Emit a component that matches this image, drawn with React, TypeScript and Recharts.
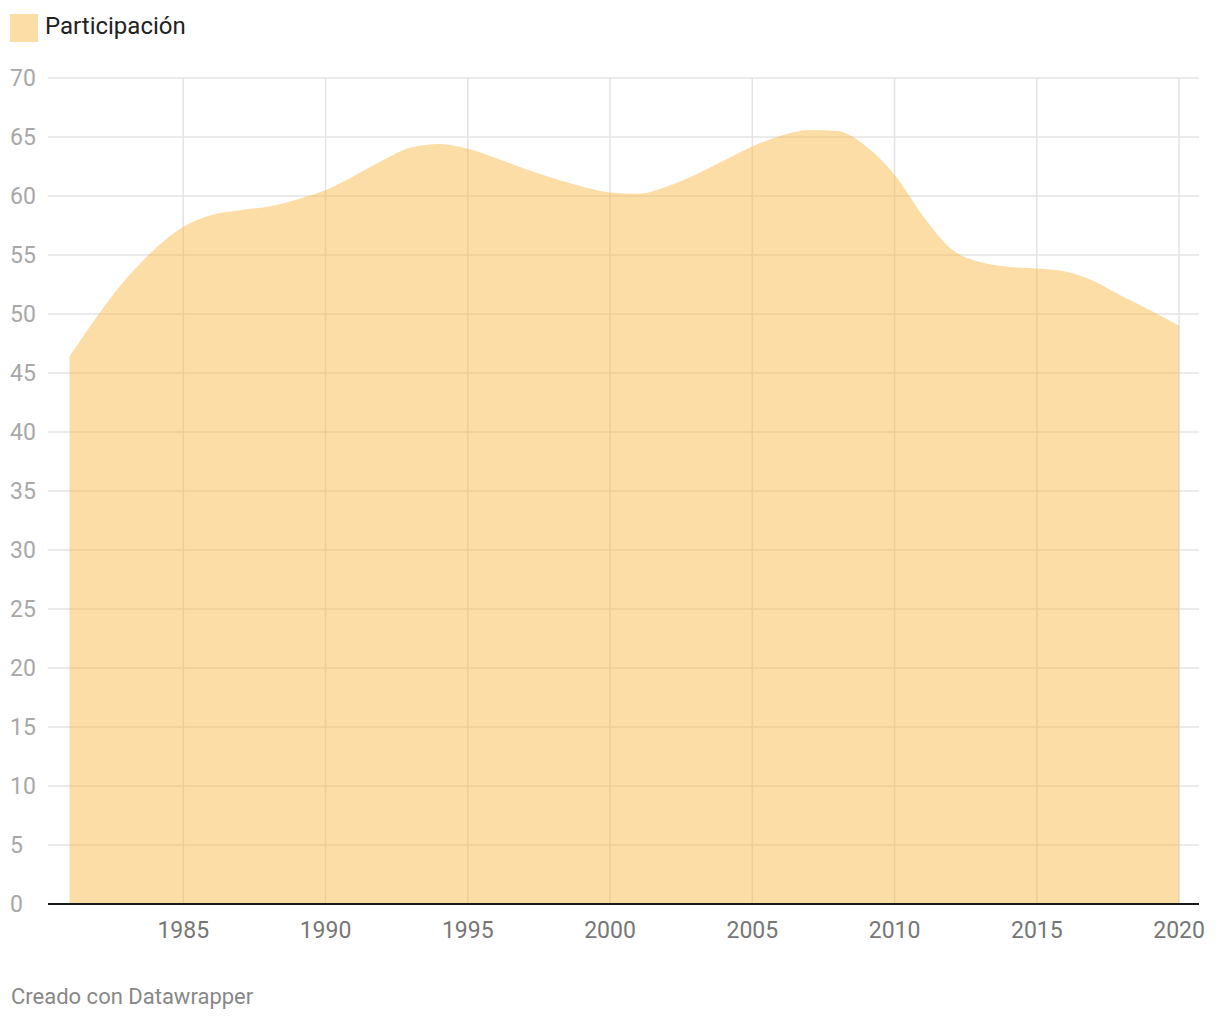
import React from 'react';
import { AreaChart, Area, XAxis, YAxis, CartesianGrid } from 'recharts';

const years = [
  1981, 1982, 1983, 1984, 1985, 1986, 1987, 1988, 1989, 1990,
  1991, 1992, 1993, 1994, 1995, 1996, 1997, 1998, 1999, 2000,
  2001, 2002, 2003, 2004, 2005, 2006, 2007, 2008, 2009, 2010,
  2011, 2012, 2013, 2014, 2015, 2016, 2017, 2018, 2019, 2020,
];

const participacion = [
  46.4, 49.9, 53.0, 55.5, 57.4, 58.4, 58.8, 59.1, 59.7, 60.5,
  61.7, 63.0, 64.1, 64.4, 64.0, 63.2, 62.3, 61.5, 60.8, 60.3,
  60.2, 60.8, 61.8, 63.0, 64.2, 65.1, 65.6, 65.5, 64.2, 61.8,
  58.3, 55.5, 54.4, 54.0, 53.85, 53.6, 52.8, 51.5, 50.3, 49.0,
];

const xTicks = [1985, 1990, 1995, 2000, 2005, 2010, 2015, 2020];
const yTicks = [0, 5, 10, 15, 20, 25, 30, 35, 40, 45, 50, 55, 60, 65, 70];
const xDomain: [number, number] = [1980.245, 2020.7];

const data = years.map((year, i) => ({ year, value: participacion[i] }));

const FILL = '#fbb339';
const FILL_OPACITY = 0.45;
const FONT = 'Roboto, "Noto Sans", sans-serif';

const YTick = (props: any) => {
  const { y, payload } = props;
  return (
    <text x={10} y={y} dy={8} textAnchor="start" fontSize={23} fill="#a8a8a8" fontFamily={FONT}>
      {payload.value}
    </text>
  );
};

const XTick = (props: any) => {
  const { x, y, payload } = props;
  return (
    <text x={x} y={y} dy={26} textAnchor="middle" fontSize={23} fill="#777777" fontFamily={FONT}>
      {payload.value}
    </text>
  );
};

// only draw vertical grid lines at the year ticks, not at the plot edges
const verticalAtTicks = ({ offset }: any) =>
  xTicks.map(
    (t) => offset.left + ((t - xDomain[0]) / (xDomain[1] - xDomain[0])) * offset.width
  );

export default function App() {
  return (
    <div style={{ position: 'relative', margin: -8, width: 1220, height: 1020, background: '#fff', fontFamily: FONT }}>
      <div style={{ position: 'absolute', left: 10, top: 14, width: 28, height: 28, background: FILL, opacity: FILL_OPACITY }} />
      <div style={{ position: 'absolute', left: 45, top: 11, fontSize: 24, color: '#222', lineHeight: '30px' }}>
        Participación
      </div>
      <div style={{ position: 'absolute', left: 0, top: 0 }}>
        <AreaChart
          width={1220}
          height={1020}
          data={data}
          margin={{ top: 78, right: 21, left: 10, bottom: 0 }}
        >
          <CartesianGrid
            stroke="#e4e4e4"
            strokeWidth={1.5}
            verticalCoordinatesGenerator={verticalAtTicks}
          />
          <XAxis
            dataKey="year"
            type="number"
            domain={xDomain}
            allowDataOverflow
            ticks={xTicks}
            tick={<XTick />}
            tickLine={false}
            axisLine={{ stroke: '#1a1a1a', strokeWidth: 2 }}
            height={116}
          />
          <YAxis
            domain={[0, 70]}
            ticks={yTicks}
            tick={<YTick />}
            tickLine={false}
            axisLine={false}
            width={38}
            interval={0}
          />
          <Area
            type="monotone"
            dataKey="value"
            stroke="none"
            fill={FILL}
            fillOpacity={FILL_OPACITY}
            isAnimationActive={false}
          />
        </AreaChart>
      </div>
      <div style={{ position: 'absolute', left: 11, top: 983, fontSize: 22, color: '#888', lineHeight: '28px' }}>
        Creado con Datawrapper
      </div>
    </div>
  );
}
